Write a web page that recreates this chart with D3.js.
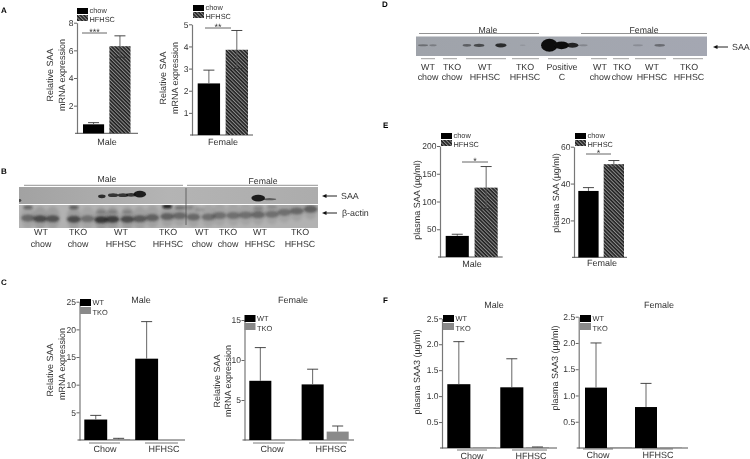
<!DOCTYPE html>
<html><head><meta charset="utf-8">
<script src="https://cdnjs.cloudflare.com/ajax/libs/d3/7.8.5/d3.min.js"></script>
<style>
html,body{margin:0;padding:0;background:#fff}
svg{display:block;filter:blur(.3px)}
text{font-family:"Liberation Sans",Arial,sans-serif;fill:#333;text-rendering:geometricPrecision}
</style></head><body><svg id="c" width="750" height="459"></svg>
<script>
// ---- data ----
const dietCategories = ["chow","HFHSC"];
const strainSeries = ["WT","TKO"];
const groupCategories = ["Chow","HFHSC"];
const aMaleValues = [0.65,6.3], aMaleUpper=[0.77,7.05], aMaleLower=[0.65,5.5];
const aFemaleValues = [2.33,3.85], aFemaleUpper=[2.93,4.72], aFemaleLower=[2.33,3.0];
const eMaleValues = [38,125], eMaleUpper=[41,163], eMaleLower=[38,87];
const eFemaleValues = [36,50.5], eFemaleUpper=[37.8,52.5], eFemaleLower=[36,48.5];
const cMaleWT=[3.7,14.7], cMaleWTUpper=[4.45,21.4], cMaleTKO=[0.15,0], cMaleTKOUpper=[0.3,0];
const cFemaleWT=[7.4,6.95], cFemaleWTUpper=[11.55,8.85], cFemaleTKO=[0.05,1.05], cFemaleTKOUpper=[0.05,1.75];
const fMaleWT=[1.23,1.17], fMaleWTUpper=[2.05,1.72], fMaleTKO=[0.01,0.015], fMaleTKOUpper=[0.01,0.02];
const fFemaleWT=[1.15,0.78], fFemaleWTUpper=[2.0,1.23], fFemaleTKO=[0.01,0.01], fFemaleTKOUpper=[0.01,0.01];
const ticksA1=[2,4,6,8], ticksA2=[1,2,3,4,5], ticksE1=[50,100,150,200], ticksE2=[20,40,60];
const ticksC1=[5,10,15,20,25], ticksC2=[5,10,15], ticksF=[0.5,1.0,1.5,2.0,2.5];
// blot bands: lane, migration (0 top..1 bottom), intensity, lane-width, height
const blotBSaaLane=[0.05,6.65,7.55,8.35,9,9.7,19.2,20.1];
const blotBSaaMig=[0.8,0.55,0.48,0.48,0.46,0.42,0.65,0.72];
const blotBSaaInt=[0.6,0.8,0.75,0.75,0.75,0.9,0.9,0.5];
const blotBSaaWid=[0.25,0.55,0.75,0.75,0.75,0.9,1.0,1.0];
const blotBSaaHgt=[0.16,0.2,0.2,0.2,0.2,0.36,0.36,0.12];
const actinLane=[0.72,1.7,2.7,4.4,5.5,6.6,7.5,8.7,9.7,10.7,11.9,12.9,14,15.2,16.1,17.2,18.2,19.2,20.3,21.3,22.3,23.4];
const actinMig=[0.57,0.6,0.6,0.62,0.6,0.64,0.62,0.62,0.6,0.55,0.5,0.47,0.52,0.52,0.46,0.46,0.44,0.42,0.4,0.32,0.26,0.18];
const actinInt=[0.45,0.65,0.6,0.65,0.4,0.8,0.75,0.65,0.55,0.5,0.5,0.45,0.45,0.4,0.4,0.4,0.4,0.45,0.4,0.4,0.45,0.5];
const smearLane=[0.72,4.4,6.6,7.5,8.7,11.9,12.9,13.6,14.5,19.2,20.3];
const smearMig=[0.1,0.1,0.3,0.3,0.3,0.06,0.12,0.1,0.2,0.15,0.1];
const smearInt=[0.4,0.45,0.18,0.18,0.18,0.85,0.3,0.2,0.12,0.2,0.15];
const blotDLane=[0.58,1.4,4.2,5.2,7,8.8,11,12,12.9,13.8,18.3,20.1];
const blotDInt=[0.35,0.25,0.45,0.6,0.8,0.1,1,1,0.85,0.2,0.16,0.38];
const blotDWid=[0.75,0.55,0.65,0.8,0.85,0.45,1.25,1.1,0.9,0.65,0.75,0.8];
const blotDHgt=[0.1,0.09,0.13,0.15,0.2,0.07,0.6,0.36,0.24,0.1,0.1,0.13];
const blotBLabelsTop=["WT","TKO","WT","TKO","WT","TKO","WT","TKO"];
const blotBLabelsBot=["chow","chow","HFHSC","HFHSC","chow","chow","HFHSC","HFHSC"];
const blotDLabelsTop=["WT","TKO","WT","TKO","Positive","WT","TKO","WT","TKO"];
const blotDLabelsBot=["chow","chow","HFHSC","HFHSC","C","chow","chow","HFHSC","HFHSC"];

// ---- helpers ----
const svg=d3.select("#c"), defs=svg.append("defs");
const hp=defs.append("pattern").attr("id","hatch").attr("width",2.6).attr("height",2.6)
 .attr("patternUnits","userSpaceOnUse").attr("patternTransform","rotate(45)");
hp.append("rect").attr("width",2.6).attr("height",2.6).attr("fill","#8c8c8c");
hp.append("rect").attr("width",2.6).attr("height",1.5).attr("fill","#1c1c1c");
[["b1",0.9],["b2",1.5],["b3",0.75]].forEach(([id,s])=>defs.append("filter").attr("id",id)
 .attr("x","-50%").attr("y","-150%").attr("width","200%").attr("height","400%")
 .append("feGaussianBlur").attr("stdDeviation",s));

function txt(x,y,s,o={}){const t=svg.append("text").attr("x",x).attr("y",y).text(s)
 .attr("font-size",o.size||9).attr("text-anchor",o.anchor||"middle");
 if(o.weight)t.attr("font-weight",o.weight); if(o.fill)t.style("fill",o.fill); return t;}
function ln(x1,y1,x2,y2,c="#666",w=0.9){svg.append("line").attr("x1",x1).attr("y1",y1).attr("x2",x2).attr("y2",y2).attr("stroke",c).attr("stroke-width",w);}
function yAxis(y,x,tv,fmt,end){
 const g=svg.append("g").attr("transform",`translate(${x},0)`)
  .call(d3.axisLeft(y).tickValues(tv).tickSize(3).tickSizeOuter(0).tickPadding(0.5).tickFormat(fmt||d3.format("d")));
 g.select(".domain").attr("stroke","#777").attr("stroke-width",1.2);
 g.selectAll(".tick line").attr("stroke","#555").attr("stroke-width",.9);
 g.selectAll("text").attr("font-size",8.5).attr("font-family",'"Liberation Sans",Arial,sans-serif').style("fill","#333");
 ln(x-2,y(0),end,y(0),"#555",1);
}
function ebar(x,yv,yu,yl,cap){
 ln(x,yu,x,yl,"#555",.9); ln(x-cap,yu,x+cap,yu,"#333",.9);
 if(yl>yv+1) ln(x-cap,yl,x+cap,yl,"#333",.9);
}
function legend(x,y,h,gap,names,fills,size){
 names.forEach((n,i)=>{
  svg.append("rect").attr("x",x).attr("y",y+i*gap).attr("width",11).attr("height",h).attr("fill",fills[i]);
  txt(x+12.5,y+i*gap+h-1+i*1.6,n,{anchor:"start",size});
 });
}
// two-bar diet chart
function dietChart(c){
 const y=d3.scaleLinear().domain(c.domain).range([c.y0,c.yTop]);
 const x=d3.scaleBand().domain(dietCategories).range(c.xr).paddingInner(c.pad||0.2);
 yAxis(y,c.axisX,c.ticks,null,c.end);
 svg.append("g").selectAll("rect").data(dietCategories).join("rect")
  .attr("x",d=>x(d)).attr("width",x.bandwidth())
  .attr("y",(d,i)=>y(c.values[i])).attr("height",(d,i)=>y(0)-y(c.values[i]))
  .attr("fill",d=>d==="chow"?"#000":"url(#hatch)");
 dietCategories.forEach((d,i)=>ebar(x(d)+x.bandwidth()/2,y(c.values[i]),y(c.upper[i]),y(c.lower[i]),5.5));
 legend(c.legX,c.legY,6,7,dietCategories,["#000","url(#hatch)"],7.4);
 ln(c.sig[0],c.sig[2],c.sig[1],c.sig[2],"#555",.9);
 txt((c.sig[0]+c.sig[1])/2,c.sig[2]+2,c.star,{size:9});
 txt(c.label[1],c.label[2],c.label[0],{size:9});
}
// grouped strain chart
function strainChart(c){
 const y=d3.scaleLinear().domain(c.domain).range([c.y0,c.yTop]);
 const x0=d3.scaleBand().domain(groupCategories).range(c.xr).paddingInner(c.pad);
 const x1=d3.scaleBand().domain(strainSeries).range([0,x0.bandwidth()]).paddingInner(c.ipad);
 yAxis(y,c.axisX,c.ticks,c.fmt,c.end);
 const sets={WT:[c.wt,c.wtU],TKO:[c.tko,c.tkoU]};
 strainSeries.forEach(s=>{
  const [v,u]=sets[s];
  svg.append("g").selectAll("rect").data(groupCategories).join("rect")
   .attr("x",d=>x0(d)+x1(s)).attr("width",x1.bandwidth())
   .attr("y",(d,i)=>y(v[i])).attr("height",(d,i)=>y(0)-y(v[i]))
   .attr("fill",s==="WT"?"#000":"#8a8a8a");
  groupCategories.forEach((d,i)=>{
   if(u[i]>v[i]) ebar(x0(d)+x1(s)+x1.bandwidth()/2,y(v[i]),y(u[i]),y(v[i]),5.5);
  });
 });
 legend(c.legX,c.legY,7,8,strainSeries,["#000","#8a8a8a"],7.4);
 groupCategories.forEach((g,i)=>{
  ln(c.under[i][0],c.underY,c.under[i][1],c.underY,"#555",.8);
  txt(c.glabel[i],c.underY+8.5,g,{size:9});
 });
 txt(c.title[1],303+c.titleDy,c.title[0],{size:9});
}

// ---- panels ----
txt(1,13,"A",{anchor:"start",size:8,weight:700,fill:"#000"});
txt(1,174,"B",{anchor:"start",size:8,weight:700,fill:"#000"});
txt(1,285,"C",{anchor:"start",size:8,weight:700,fill:"#000"});
txt(382,7,"D",{anchor:"start",size:8,weight:700,fill:"#000"});
txt(383,128,"E",{anchor:"start",size:8,weight:700,fill:"#000"});
txt(383,303,"F",{anchor:"start",size:8,weight:700,fill:"#000"});

dietChart({domain:[0,8],y0:133.3,yTop:22.7,xr:[83,130.5],axisX:77,end:138,ticks:ticksA1,values:aMaleValues,upper:aMaleUpper,lower:aMaleLower,legX:77,legY:8,sig:[82,107,33],star:"***",label:["Male",107,144.5]});
dietChart({domain:[0,5],y0:135,yTop:24.3,xr:[197.7,248],axisX:192,end:253,ticks:ticksA2,values:aFemaleValues,upper:aFemaleUpper,lower:aFemaleLower,legX:193,legY:5,sig:[205,231,28],star:"**",label:["Female",223,144.5]});
dietChart({domain:[0,200],y0:257,yTop:146,xr:[445.7,497.7],axisX:440,end:502.7,ticks:ticksE1,values:eMaleValues,upper:eMaleUpper,lower:eMaleLower,legX:441,legY:133,sig:[462,488,162],star:"*",label:["Male",472,267]});
dietChart({domain:[0,60],y0:257.3,yTop:146.7,xr:[578.3,624],axisX:574,end:627,ticks:ticksE2,values:eFemaleValues,upper:eFemaleUpper,lower:eFemaleLower,legX:575,legY:133,sig:[586,611,154],star:"*",label:["Female",602,266]});

strainChart({domain:[0,25],y0:440,yTop:301.7,xr:[84.3,181],pad:0.1,ipad:0,axisX:79.5,end:185,ticks:ticksC1,wt:cMaleWT,wtU:cMaleWTUpper,tko:cMaleTKO,tkoU:cMaleTKOUpper,legX:80,legY:299,under:[[89,120],[145,178]],underY:443,glabel:[105,164],title:["Male",141],titleDy:0});
strainChart({domain:[0,15],y0:440,yTop:320,xr:[249.3,348.7],pad:0.1,ipad:0.12,axisX:244.5,end:354,ticks:ticksC2,wt:cFemaleWT,wtU:cFemaleWTUpper,tko:cFemaleTKO,tkoU:cFemaleTKOUpper,legX:244.5,legY:315,under:[[253,285],[309,347]],underY:443,glabel:[272,331],title:["Female",293],titleDy:0});
strainChart({domain:[0,2.5],y0:448,yTop:318.3,xr:[447.3,549],pad:0.08,ipad:0.1,axisX:442,end:557,ticks:ticksF,fmt:d3.format(".1f"),wt:fMaleWT,wtU:fMaleWTUpper,tko:fMaleTKO,tkoU:fMaleTKOUpper,legX:443,legY:315,under:[[457,487],[512,547]],underY:450,glabel:[472,531],title:["Male",494],titleDy:5});
strainChart({domain:[0,2.5],y0:448,yTop:316.7,xr:[585,682],pad:0.06,ipad:0.12,axisX:578.7,end:688,ticks:ticksF,fmt:d3.format(".1f"),wt:fFemaleWT,wtU:fFemaleWTUpper,tko:fFemaleTKO,tkoU:fFemaleTKOUpper,legX:580,legY:315,under:[[583,613],[642,673]],underY:449,glabel:[598,658],title:["Female",659],titleDy:5});

// y titles
[[50,75,"Relative SAA"],[62,75,"mRNA expression"],[163,78,"Relative SAA"],[175,78,"mRNA expression"],
 [50,370,"Relative SAA"],[62,364,"mRNA expression"],[217,381,"Relative SAA"],[228,381,"mRNA expression"],
 [417,200,"plasma SAA (µg/ml)"],[556,193,"plasma SAA (µg/ml)"],[417,372,"plasma SAA3 (µg/ml)"],[555,368,"plasma SAA3 (µg/ml)"]]
 .forEach(([x,y,s])=>{svg.append("text").attr("transform",`translate(${x+2.8},${y}) rotate(-90)`).attr("text-anchor","middle").attr("font-size",9).text(s);});

// ---- blots ----
function blot(x,y,w,h,fill,id){
 defs.append("clipPath").attr("id",id).append("rect").attr("x",x).attr("y",y).attr("width",w).attr("height",h);
 svg.append("rect").attr("x",x).attr("y",y).attr("width",w).attr("height",h).attr("fill",fill);
 return svg.append("g").attr("clip-path",`url(#${id})`);
}
function bands(g,xs,ys,lanes,mig,ints,wids,hgts,filter,color){
 g.selectAll(null).data(lanes).join("ellipse").attr("filter",`url(#${filter})`)
  .attr("cx",d=>xs(d)).attr("cy",(d,i)=>ys(mig?mig[i]:0.45))
  .attr("rx",(d,i)=>(wids?wids[i]:0.5)*(xs(1)-xs(0))*0.55)
  .attr("ry",(d,i)=>(hgts?hgts[i]:0.12)*(ys(1)-ys(0))/2*1.1)
  .attr("fill",color||"#111").attr("opacity",(d,i)=>ints[i]);
}
const grad=defs.append("linearGradient").attr("id","gradB");
grad.append("stop").attr("offset","0").attr("stop-color","#a2a2a2");
grad.append("stop").attr("offset","0.5").attr("stop-color","#b4b4b4");
grad.append("stop").attr("offset","1").attr("stop-color","#acacac");
const gradD=defs.append("linearGradient").attr("id","gradD");
gradD.append("stop").attr("offset","0").attr("stop-color","#9fa3aa");
gradD.append("stop").attr("offset","0.5").attr("stop-color","#a2a6ae");
gradD.append("stop").attr("offset","1").attr("stop-color","#a4a7b2");

const lanesB=d3.scaleLinear().domain([0,24]).range([19,318]);
const upY=d3.scaleLinear().domain([0,1]).range([187,204]);
const loY=d3.scaleLinear().domain([0,1]).range([205,228]);
const gu=blot(19,187,299,17,"url(#gradB)","cu");
bands(gu,lanesB,upY,blotBSaaLane,blotBSaaMig,blotBSaaInt,blotBSaaWid,blotBSaaHgt,"b3");
const gl=blot(19,205,299,23,"#b2b2b2","cl");
bands(gl,lanesB,loY,actinLane,actinMig.map(m=>m-0.05),actinInt.map(v=>v*0.3),actinLane.map(()=>1.05),actinLane.map(()=>0.9),"b2","#444");
bands(gl,lanesB,loY,smearLane,smearMig,smearInt,smearLane.map(()=>0.7),smearLane.map(()=>0.16),"b1");
bands(gl,lanesB,loY,actinLane,actinMig,actinInt,actinLane.map(()=>1.0),actinLane.map(()=>0.28),"b1","#222");
ln(186,188,186,225,"#444",.7);
ln(24,185.3,183,185.3,"#777",.8); ln(187,185.3,318,185.3,"#777",.8);
txt(107,182,"Male",{size:8.7}); txt(263,184,"Female",{size:8.7});
const bLabelX=[41,78,121,168,202,228,260,300];
blotBLabelsTop.forEach((s,i)=>{txt(bLabelX[i],235,s,{size:8.9});txt(bLabelX[i],247,blotBLabelsBot[i],{size:8.9});});
function arrow(x1,x2,y){ln(x1+3,y,x2,y,"#222",1);svg.append("path").attr("d",d3.line()([[x1,y],[x1+4.5,y-2],[x1+4.5,y+2]])+"Z").attr("fill","#111");}
arrow(322,337,196); txt(341,199,"SAA",{anchor:"start",size:8.9});
arrow(322,337,213); txt(342,216,"β-actin",{anchor:"start",size:8.9});

const lanesD=d3.scaleLinear().domain([0,24]).range([416,707]);
const dY=d3.scaleLinear().domain([0,1]).range([36.5,56]);
const gd=blot(416,36.5,291,19.5,"url(#gradD)","cd");
bands(gd,lanesD,dY,blotDLane,null,blotDInt,blotDWid,blotDHgt,"b3");
ln(419,33.5,539,33.5,"#777",.8); ln(581,33.5,707,33.5,"#777",.8);
txt(488,32.5,"Male",{size:8.7}); txt(644,32.5,"Female",{size:8.7});
const dLabelX=[428,452,485,525,562,600,622,652,689];
const dUnder=[[421,435],[443,457],[466,506],[512,539],[548,577],[591,607],[613,629],[635,666],[673,703]];
blotDLabelsTop.forEach((s,i)=>{txt(dLabelX[i],69.5,s,{size:8.9});txt(dLabelX[i],80,blotDLabelsBot[i],{size:8.9});
 ln(dUnder[i][0],58.7,dUnder[i][1],58.7,"#888",.8);});
arrow(713,728,47); txt(732,50,"SAA",{anchor:"start",size:8.9});
</script></body></html>
